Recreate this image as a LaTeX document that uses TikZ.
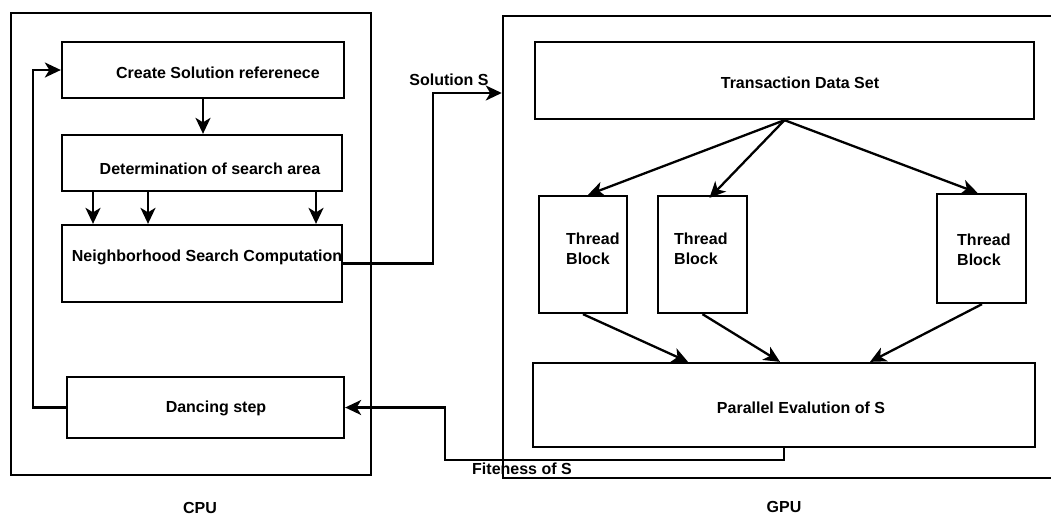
\documentclass[tikz,border=0pt]{standalone}
\usepackage{fontspec}
\setmainfont{Liberation Sans}
\usetikzlibrary{arrows.meta}
\begin{document}
\begin{tikzpicture}[x=1pt,y=-1pt,
  box/.style={draw,line width=2.3pt,minimum width=#1,inner sep=0pt},
  frame/.style={draw,line width=2.5pt,inner sep=0pt},
  txt/.style={font=\fontsize{16}{19}\selectfont\bfseries,inner sep=0pt},
  tbtxt/.style={txt,align=left,anchor=west,font=\fontsize{16}{20}\selectfont\bfseries},
  arr/.style={line width=2.3pt,-{Stealth[length=16pt,width=15pt,inset=4.5pt]}},
  wire/.style={line width=2.3pt}]
\useasboundingbox (0,0) rectangle (1051,515);
\clip (0,0) rectangle (1051,515);

% outer frames
\node[frame,minimum width=360pt,minimum height=462pt] (cpu) at (191,244) {};
\node[frame,minimum width=560pt,minimum height=462pt] (gpu) at (783,247) {};

% CPU side boxes
\node[box=282pt,minimum height=56pt] (create) at (203,70) {};
\node[box=280pt,minimum height=56pt] (determ) at (202,163) {};
\node[box=280pt,minimum height=77pt] (neigh) at (202,263.5) {};
\node[box=277pt,minimum height=61pt] (dance) at (205.5,407.5) {};

\node[txt] (tcreate) at (218,73) {Create Solution referenece};
\node[txt] (tdeterm) at (210,169) {Determination of search area};
\node[txt] (tneigh) at (207,257) {Neighborhood Search Computation};
\node[txt] (tdance) at (216,408) {Dancing step};

% GPU side boxes
\node[box=499pt,minimum height=77pt] (trans) at (784.5,80.5) {};
\node[box=88pt,minimum height=117pt] (tb1) at (583,254.5) {};
\node[box=89pt,minimum height=117pt] (tb2) at (702.5,254.5) {};
\node[box=89pt,minimum height=109pt] (tb3) at (981.5,248.5) {};
\node[box=502pt,minimum height=84pt] (par) at (784,405) {};

\node[txt] (ttrans) at (800,83) {Transaction Data Set};
\node[tbtxt] (ttb1) at (566,249) {Thread\\Block};
\node[tbtxt] (ttb2) at (674,249) {Thread\\Block};
\node[tbtxt] (ttb3) at (957,250) {Thread\\Block};
\node[txt] (tpar) at (801,408) {Parallel Evalution of S};

% frame captions
\node[txt] (lcpu) at (200,508) {CPU};
\node[txt] (lgpu) at (784,507) {GPU};

% CPU flow
\draw[arr] (create.south) -- (create.south |- determ.north);
\draw[arr] ([xshift=-109pt]determ.south) -- ([xshift=-109pt]neigh.north);
\draw[arr] ([xshift=-54pt]determ.south) -- ([xshift=-54pt]neigh.north);
\draw[arr] ([xshift=114pt]determ.south) -- ([xshift=114pt]neigh.north);

\coordinate (fb) at (33,70);
\draw[arr] (dance.west) -| (fb) -- (create.west);

% CPU -> GPU
\coordinate (sbend) at (433,93);
\draw[arr] (neigh.east) -| (sbend) -- (sbend -| gpu.west);
\node[txt] (lsol) at (449,80) {Solution S};

% GPU flow
\draw[arr] (trans.south) -- ([xshift=5pt]tb1.north);
\draw[arr] (trans.south) -- ([xshift=7pt,yshift=-3pt]tb2.north);
\draw[arr] (trans.south) -- ([xshift=-4pt]tb3.north);
\draw[arr] (tb1.south) -- ([xshift=-96pt]par.north);
\draw[arr] (tb2.south) -- ([xshift=-4pt]par.north);
\draw[arr] ([xshift=0.5pt]tb3.south) -- ([xshift=86pt]par.north);

% GPU -> CPU
\coordinate (fit) at (445,460);
\draw[arr] (par.south) |- (fit) |- (dance.east);
\node[txt] (lfit) at (522,469) {Fiteness of S};
\end{tikzpicture}
\end{document}
